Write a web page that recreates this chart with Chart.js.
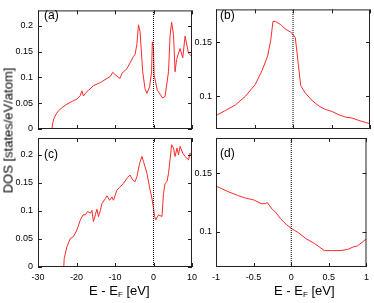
<!DOCTYPE html>
<html>
<head>
<meta charset="utf-8">
<script src="https://cdn.jsdelivr.net/npm/chart.js@4/dist/chart.umd.min.js"></script>
<style>
html, body { margin: 0; padding: 0; background: #fff; }
#wrap { position: relative; width: 374px; height: 303px; overflow: hidden; font-family: "Liberation Sans", Arial, sans-serif; color: #000; }
canvas { position: absolute; left: 0; top: 0; }
.lbl { position: absolute; font-size: 12px; line-height: 12px; }
.xt { position: absolute; font-size: 13px; line-height: 13px; white-space: nowrap; }
.xt sub { font-size: 8px; vertical-align: -2px; line-height: 0; }
.yt { position: absolute; font-size: 13px; line-height: 13px; white-space: nowrap; width: 150px; text-align: center; transform: rotate(-90deg); }
</style>
</head>
<body>
<div id="wrap">
  <canvas id="cA" width="374" height="303"></canvas>
  <canvas id="cB" width="374" height="303"></canvas>
  <canvas id="cC" width="374" height="303"></canvas>
  <canvas id="cD" width="374" height="303"></canvas>
  <div class="lbl" style="left:44px;top:9px">(a)</div>
  <div class="lbl" style="left:220px;top:9px">(b)</div>
  <div class="lbl" style="left:44px;top:148px">(c)</div>
  <div class="lbl" style="left:220px;top:147px">(d)</div>
  <div class="xt" style="left:89px;top:284px">E - E<sub>F</sub> [eV]</div>
  <div class="xt" style="left:274px;top:284px">E - E<sub>F</sub> [eV]</div>
  <div class="yt" style="left:-67px;top:124px">DOS [states/eV/atom]</div>
</div>
<script>
// ===== 資料 =====
// (a) wide range, upper curve
const energyA = [-26.4, -26.2, -25.9, -25.2, -24.6, -23.5, -22.5, -21.0, -19.9, -19.0, -18.6, -18.2, -17.5,
  -16.9, -15.6, -13.8, -12.1, -11.2, -10.6, -9.9, -8.7, -8.2, -6.9, -5.6, -5.2, -4.8, -4.3, -3.9, -3.5,
  -2.8, -2.2, -1.7, -1.0, -0.5, -0.3, 0.0, 0.15, 1.0, 2.4, 3.0, 3.9, 4.3, 4.7, 5.2, 5.6, 6.0, 6.9, 7.6,
  8.2, 9.1, 9.5, 10.0];
const dosA = [0, 0.010, 0.020, 0.030, 0.036, 0.043, 0.048, 0.054, 0.058, 0.065, 0.074, 0.064, 0.071,
  0.075, 0.084, 0.090, 0.098, 0.102, 0.110, 0.105, 0.098, 0.108, 0.117, 0.135, 0.141, 0.144, 0.165, 0.202, 0.189,
  0.111, 0.078, 0.069, 0.082, 0.111, 0.169, 0.157, 0.105, 0.075, 0.060, 0.063, 0.111, 0.180, 0.207, 0.183, 0.111,
  0.135, 0.156, 0.138, 0.180, 0.147, 0.144, 0.140];

// (b) zoom around E_F, upper curve
const energyB = [-1.0, -0.88, -0.75, -0.62, -0.49, -0.40, -0.33, -0.29, -0.26, -0.23, -0.16, -0.10, -0.03, 0.0,
  0.03, 0.07, 0.10, 0.16, 0.25, 0.34, 0.42, 0.51, 0.60, 0.68, 0.77, 0.85, 0.94, 1.0];
const dosB = [0.0823, 0.087, 0.092, 0.100, 0.111, 0.124, 0.137, 0.151, 0.169, 0.169, 0.166, 0.162, 0.159, 0.157,
  0.154, 0.129, 0.110, 0.103, 0.096, 0.091, 0.088, 0.086, 0.083, 0.081, 0.080, 0.078, 0.076, 0.075];

// (c) wide range, lower curve
const energyC = [-23.3, -23.2, -22.5, -21.6, -20.8, -19.9, -19.0, -18.3, -17.7, -17.1, -16.4, -16.0, -15.6, -15.1,
  -14.7, -14.3, -13.8, -13.4, -12.5, -12.1, -11.4, -10.8, -10.4, -9.5, -8.7, -7.8, -6.9, -6.1, -5.4, -4.8, -4.3,
  -3.6, -3.0, -2.6, -1.7, -1.0, -0.4, 0.0, 0.3, 0.6, 1.3, 2.2, 2.6, 3.0, 3.5, 3.9, 4.3, 4.7, 5.2, 5.6, 6.1, 6.5,
  6.9, 7.6, 8.2, 9.1, 9.5, 10.0];
const dosC = [0, 0.015, 0.036, 0.051, 0.054, 0.066, 0.084, 0.093, 0.093, 0.099, 0.096, 0.101, 0.081, 0.093,
  0.103, 0.090, 0.101, 0.113, 0.122, 0.127, 0.119, 0.125, 0.119, 0.137, 0.143, 0.149, 0.158, 0.164, 0.155, 0.152, 0.161,
  0.185, 0.197, 0.188, 0.167, 0.141, 0.122, 0.105, 0.090, 0.084, 0.093, 0.090, 0.131, 0.149, 0.152, 0.167, 0.191, 0.218,
  0.212, 0.197, 0.212, 0.200, 0.215, 0.203, 0.197, 0.191, 0.203, 0.198];

// (d) zoom around E_F, lower curve
const energyD = [-1.0, -0.83, -0.71, -0.62, -0.49, -0.40, -0.34, -0.32, -0.25, -0.21, -0.14, -0.06, 0.0, 0.10,
  0.20, 0.31, 0.44, 0.55, 0.66, 0.75, 0.82, 0.88, 0.94, 1.0];
const dosD = [0.139, 0.134, 0.131, 0.129, 0.127, 0.124, 0.124, 0.125, 0.119, 0.117, 0.111, 0.106, 0.103, 0.099,
  0.094, 0.090, 0.084, 0.084, 0.084, 0.085, 0.087, 0.088, 0.091, 0.094];

// tick labels
const wideTicks = [-30, -20, -10, 0, 10];
const narrowTicks = [-1, -0.5, 0, 0.5, 1];
const dosTicksWide = [0, 0.05, 0.1, 0.15, 0.2];
const dosTicksNarrow = [0.1, 0.15];

const FONT = '"Liberation Sans", Arial, sans-serif';

// ===== Helper =====
function zip(xs, ys) {
    return xs.map((x, i) => ({ x, y: ys[i] }));
}

function fmt(v) {
    return String(+v.toFixed(3));
}

// inward ticks + frame
const frameTicks = {
    id: "frameTicks",
    afterDatasetsDraw(chart) {
        const { ctx, chartArea: a, scales: { x, y } } = chart;
        ctx.save();
        ctx.strokeStyle = "#222";
        ctx.lineWidth = 1;
        ctx.beginPath();
        x.ticks.forEach(t => {
            const px = Math.round(x.getPixelForValue(t.value)) + 0.5;
            ctx.moveTo(px, a.bottom); ctx.lineTo(px, a.bottom - 4);
            ctx.moveTo(px, a.top); ctx.lineTo(px, a.top + 4);
        });
        y.ticks.forEach(t => {
            const py = Math.round(y.getPixelForValue(t.value)) + 0.5;
            ctx.moveTo(a.left, py); ctx.lineTo(a.left + 4, py);
            ctx.moveTo(a.right, py); ctx.lineTo(a.right - 4, py);
        });
        ctx.stroke();
        ctx.strokeRect(a.left + 0.5, a.top + 0.5, a.right - a.left - 1, a.bottom - a.top - 1);
        ctx.restore();
    }
};

function makePanel(id, area, xr, yr, xTicks, yTicks, showX, labelPad, energy, dos) {
    const ctx = document.getElementById(id).getContext("2d");
    return new Chart(ctx, {
        type: "line",
        data: {
            datasets: [
                {
                    data: [{ x: 0, y: yr[0] }, { x: 0, y: yr[1] }],
                    borderColor: "#000",
                    borderWidth: 1,
                    borderDash: [1, 1],
                    pointRadius: 0,
                },
                {
                    data: zip(energy, dos),
                    borderColor: "#ff2a2a",
                    borderWidth: 1,
                    pointRadius: 0,
                    tension: 0,
                },
            ],
        },
        options: {
            responsive: false,
            animation: false,
            devicePixelRatio: 1,
            layout: {
                padding: { left: area.l - 30, top: area.t, right: 374 - area.r, bottom: 303 - area.b - 20 }
            },
            plugins: { legend: { display: false }, tooltip: { enabled: false } },
            scales: {
                x: {
                    type: "linear",
                    min: xr[0],
                    max: xr[1],
                    grid: { display: false, drawTicks: false },
                    border: { display: false },
                    ticks: {
                        display: showX, padding: 5, color: "#000", autoSkip: false, maxRotation: 0,
                        font: { size: 9, family: FONT }, callback: fmt
                    },
                    afterBuildTicks: s => { s.ticks = xTicks.map(v => ({ value: v })); },
                    afterFit: s => { s.height = 20; },
                },
                y: {
                    type: "linear",
                    min: yr[0],
                    max: yr[1],
                    grid: { display: false, drawTicks: false },
                    border: { display: false },
                    ticks: {
                        padding: labelPad, color: "#000", autoSkip: false,
                        font: { size: 9, family: FONT }, callback: fmt
                    },
                    afterBuildTicks: s => { s.ticks = yTicks.map(v => ({ value: v })); },
                    afterFit: s => { s.width = 30; },
                },
            },
        },
        plugins: [frameTicks],
    });
}

// ===== 繪圖 =====
makePanel("cA", { l: 38, t: 1, r: 192, b: 129 }, [-30, 10], [0, 0.23], wideTicks, dosTicksWide, false, 5, energyA, dosA);
makePanel("cB", { l: 216, t: 1, r: 370, b: 129 }, [-1, 1], [0.07, 0.18], narrowTicks, dosTicksNarrow, false, 4, energyB, dosB);
makePanel("cC", { l: 38, t: 138, r: 192, b: 267 }, [-30, 10], [0, 0.23], wideTicks, dosTicksWide, true, 5, energyC, dosC);
makePanel("cD", { l: 216, t: 138, r: 370, b: 267 }, [-1, 1], [0.07, 0.18], narrowTicks, dosTicksNarrow, true, 4, energyD, dosD);
</script>
</body>
</html>
